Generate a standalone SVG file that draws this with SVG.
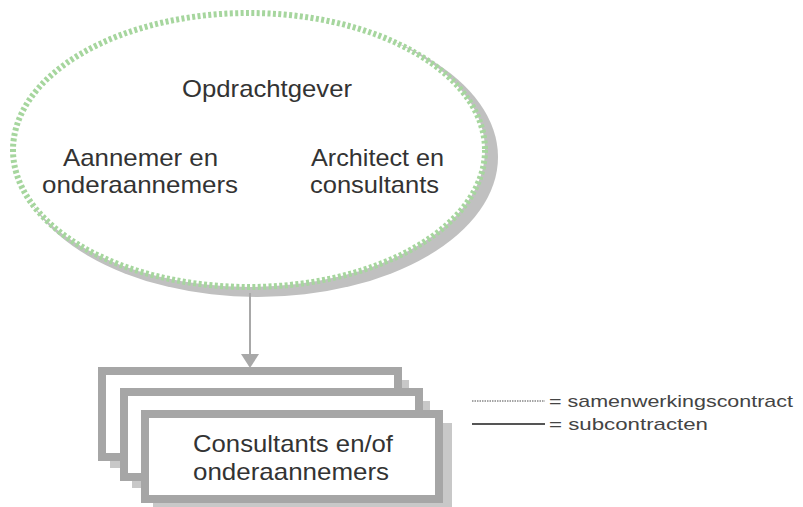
<svg xmlns="http://www.w3.org/2000/svg" width="803" height="507" viewBox="0 0 803 507">
  <style>
    .label { font-family: "Liberation Sans", Arial, sans-serif; font-size: 24px; fill: #333333; }
    .legend { font-family: "Liberation Sans", Arial, sans-serif; font-size: 17px; fill: #444444; }
    .box { fill: #ffffff; stroke: #a6a6a6; stroke-width: 8; }
    .box-shadow { fill: #c8c8c8; }
    .connector { stroke: #a8a8a8; stroke-width: 2; fill: none; }
  </style>

  <rect width="803" height="507" fill="#ffffff"/>

  <!-- Collaboration ellipse: client, contractor and architect -->
  <g id="samenwerking">
    <ellipse cx="258" cy="157" rx="240" ry="140" fill="#c0c0c0"/>
    <ellipse cx="249" cy="150" rx="236" ry="137" fill="#ffffff" stroke="#a6d69e" stroke-width="6" stroke-dasharray="3 2.4"/>
    <text class="label" x="182" y="97" textLength="170" lengthAdjust="spacingAndGlyphs">Opdrachtgever</text>
    <text class="label" x="63" y="166" textLength="155" lengthAdjust="spacingAndGlyphs">Aannemer en</text>
    <text class="label" x="42" y="193" textLength="196" lengthAdjust="spacingAndGlyphs">onderaannemers</text>
    <text class="label" x="311" y="166" textLength="133" lengthAdjust="spacingAndGlyphs">Architect en</text>
    <text class="label" x="310" y="193" textLength="129" lengthAdjust="spacingAndGlyphs">consultants</text>
  </g>

  <!-- Subcontract connector -->
  <g id="connectors">
    <line class="connector" x1="250" y1="293" x2="250" y2="355"/>
    <polygon points="241,354 259,354 250,368" fill="#a8a8a8"/>
  </g>

  <!-- Stack of subcontracted parties -->
  <g id="consultants">
    <rect class="box-shadow" x="110" y="380" width="299" height="88"/>
    <rect class="box" x="102" y="371" width="296" height="86"/>
    <rect class="box-shadow" x="132" y="401" width="298" height="87"/>
    <rect class="box" x="124" y="392" width="295" height="85"/>
    <rect class="box-shadow" x="153" y="423" width="299" height="87"/>
    <rect class="box" x="145" y="414" width="294" height="85"/>
    <text class="label" x="193" y="452" textLength="200" lengthAdjust="spacingAndGlyphs">Consultants en/of</text>
    <text class="label" x="193" y="480" textLength="196" lengthAdjust="spacingAndGlyphs">onderaannemers</text>
  </g>

  <!-- Legend -->
  <g id="legend">
    <line x1="472" y1="401" x2="545" y2="401" stroke="#888888" stroke-width="1.5" stroke-dasharray="1.5 1"/>
    <text class="legend" x="549" y="407" textLength="244" lengthAdjust="spacingAndGlyphs">= samenwerkingscontract</text>
    <line x1="472" y1="424" x2="545" y2="424" stroke="#555555" stroke-width="2"/>
    <text class="legend" x="549" y="430" textLength="159" lengthAdjust="spacingAndGlyphs">= subcontracten</text>
  </g>
</svg>
